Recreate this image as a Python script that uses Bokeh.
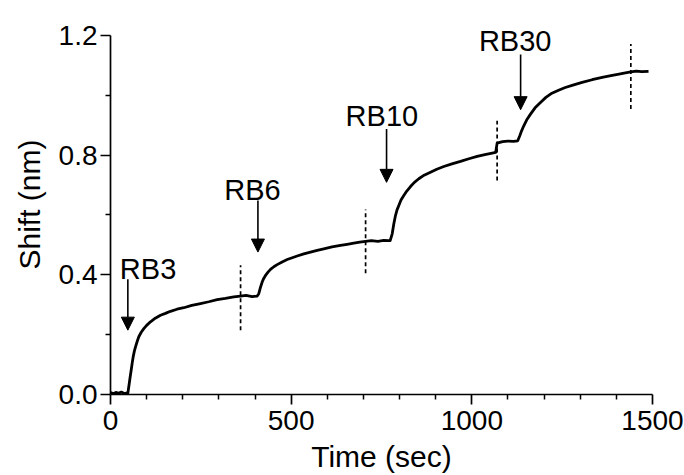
from bokeh.plotting import figure
from bokeh.models import (Arrow, NormalHead, FixedTicker, PrintfTickFormatter,
                          ColumnDataSource, Range1d, Label)
from bokeh.embed import file_html
from bokeh.resources import INLINE

# ---- data ----
time_s = [0, 8, 15, 22, 30, 38, 44, 48,
          50.6, 54, 57.3, 60, 62.8, 66, 69.2, 74, 78.3, 85, 92.2, 100, 110.7, 124, 138.4, 152, 166, 184,
          202.9, 225, 249, 272, 295.3, 318, 341.2, 359.8, 375, 392, 406,
          410.4, 415, 419.8, 424, 429, 436, 442.8, 452, 461.3, 475, 489, 503, 516.7, 535, 553.5, 572,
          590.3, 613, 636.5, 655, 673.3, 690, 705.7, 722, 740, 756, 770,
          774, 779.6, 784, 788.7, 793, 797.9, 804, 811.7, 820, 830.3, 841, 853.2, 868, 885.6, 903,
          922.4, 945, 968.6, 992, 1014.8, 1036, 1056.4, 1066, 1070, 1085, 1100, 1115, 1127,
          1132.7, 1138, 1143.8, 1153, 1162.4, 1175, 1190, 1205, 1221.6, 1240, 1258.6, 1282, 1305.2,
          1333, 1360.8, 1385, 1407.3, 1425, 1440, 1455, 1470, 1489]
shift_nm = [0.006, 0.003, 0.007, 0.004, 0.008, 0.003, 0.005, 0.004,
            0.026, 0.055, 0.082, 0.105, 0.126, 0.145, 0.159, 0.178, 0.193, 0.208, 0.220, 0.231, 0.243, 0.255, 0.265, 0.271, 0.278, 0.285,
            0.290, 0.298, 0.304, 0.310, 0.317, 0.321, 0.326, 0.329, 0.331, 0.327, 0.329,
            0.337, 0.358, 0.376, 0.388, 0.398, 0.409, 0.418, 0.427, 0.434, 0.443, 0.451, 0.457, 0.463, 0.470, 0.476, 0.482,
            0.487, 0.493, 0.498, 0.502, 0.506, 0.509, 0.512, 0.514, 0.512, 0.515, 0.514,
            0.514, 0.537, 0.570, 0.598, 0.617, 0.632, 0.650, 0.665, 0.680, 0.695, 0.709, 0.721, 0.733, 0.743, 0.753,
            0.762, 0.771, 0.779, 0.788, 0.796, 0.802, 0.807, 0.809, 0.840, 0.845, 0.847, 0.846, 0.848,
            0.865, 0.882, 0.898, 0.920, 0.937, 0.958, 0.976, 0.993, 1.007, 1.017, 1.026, 1.035, 1.043,
            1.052, 1.060, 1.066, 1.071, 1.075, 1.078, 1.081, 1.079, 1.080]

dash_x = [360, 706, 1070, 1440]
dash_y0 = [0.215, 0.405, 0.715, 0.954]
dash_y1 = [0.432, 0.618, 0.915, 1.171]

labels = ["RB3", "RB6", "RB10", "RB30"]
label_x = [104, 393, 751, 1120]
label_y = [0.42, 0.685, 0.932, 1.18]

arrow_x = [48, 408, 764, 1135]
arrow_y0 = [0.385, 0.648, 0.887, 1.136]
arrow_y1 = [0.215, 0.476, 0.709, 0.952]

x_ticks = [0, 500, 1000, 1500]
x_minor_ticks = [100, 200, 300, 400, 600, 700, 800, 900, 1100, 1200, 1300, 1400]
y_ticks = [0.0, 0.4, 0.8, 1.2]
y_minor_ticks = [0.2, 0.6, 1.0]

FONT = "Liberation Sans"

# frame extends a little above 1.2 so the top label is not clipped; the axis stops at 1.2
p = figure(width=684, height=475, output_backend="svg", toolbar_location=None,
           x_range=Range1d(0, 1500), y_range=Range1d(0, 1.27),
           min_border_left=110, min_border_right=32, min_border_top=14, min_border_bottom=80,
           background_fill_color="white", border_fill_color="white")
p.outline_line_color = None
p.xgrid.visible = False
p.ygrid.visible = False

p.line(time_s, shift_nm, line_color="black", line_width=2.8, line_join="round")
p.segment(x0=dash_x, y0=dash_y0, x1=dash_x, y1=dash_y1, line_color="black",
          line_width=1.7, line_dash="4 3")

arr_src = ColumnDataSource(dict(x=arrow_x, y0=arrow_y0, y1=arrow_y1))
p.add_layout(Arrow(x_start="x", y_start="y0", x_end="x", y_end="y1", source=arr_src,
                   line_color="black", line_width=1.6,
                   end=NormalHead(size=13, fill_color="black", line_color="black", line_width=1)))

for t, lx, ly in zip(labels, label_x, label_y):
    p.add_layout(Label(x=lx, y=ly, text=t, text_align="center", text_baseline="alphabetic",
                       text_font=FONT, text_font_size="29px", text_color="black"))

for ax in (p.xaxis[0], p.yaxis[0]):
    ax.axis_line_width = 1.7
    ax.axis_line_color = "black"
    ax.major_tick_line_color = "black"
    ax.major_tick_line_width = 1.7
    ax.minor_tick_line_color = "black"
    ax.minor_tick_line_width = 1.5
    ax.major_tick_out = 10
    ax.major_tick_in = 0
    ax.minor_tick_out = 5
    ax.minor_tick_in = 0
    ax.major_label_text_font = FONT
    ax.major_label_text_font_size = "28px"
    ax.major_label_text_color = "black"
    ax.axis_label_text_font = FONT
    ax.axis_label_text_font_size = "30px"
    ax.axis_label_text_font_style = "normal"
    ax.axis_label_text_color = "black"

p.xaxis[0].ticker = FixedTicker(ticks=x_ticks, minor_ticks=x_minor_ticks)
p.yaxis[0].ticker = FixedTicker(ticks=y_ticks, minor_ticks=y_minor_ticks)
p.yaxis[0].bounds = (y_ticks[0], y_ticks[-1])
p.xaxis[0].bounds = (x_ticks[0], x_ticks[-1])
p.yaxis[0].formatter = PrintfTickFormatter(format="%.1f")
p.xaxis[0].axis_label = "Time (sec)"
p.yaxis[0].axis_label = "Shift (nm)"
p.xaxis[0].major_label_standoff = 6
p.yaxis[0].major_label_standoff = 3
p.xaxis[0].axis_label_standoff = 7
p.yaxis[0].axis_label_standoff = 10

open("out.html", "w").write(file_html(p, INLINE))
